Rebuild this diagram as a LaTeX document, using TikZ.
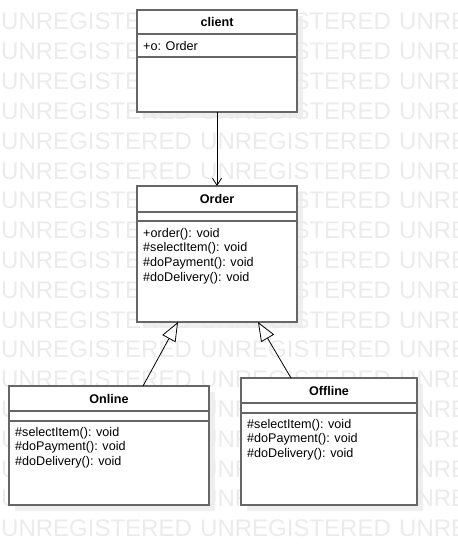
\documentclass[tikz,border=0pt]{standalone}
\usepackage{fontspec}
\setmainfont{Liberation Sans}
\usetikzlibrary{backgrounds,positioning,fit,arrows.meta}
\definecolor{boxline}{HTML}{666666}
\definecolor{wmgray}{HTML}{EBEBEB}
\definecolor{shade}{HTML}{EFEFEF}

\begin{document}
\begin{tikzpicture}[x=1pt, y=-1pt,
  part/.style={draw=boxline, line width=1.6pt, fill=white, outer sep=0pt, inner sep=0pt, font=\fontsize{12.6}{14.6}\selectfont},
  title/.style={part, font=\fontsize{12.6}{14.6}\selectfont\bfseries},
  member/.style={inner sep=0pt, align=left, font=\fontsize{12.6}{14.6}\selectfont},
  assoc/.style={-{Straight Barb[length=7pt,width=9pt]}, line width=0.8pt},
  inherit/.style={-{Triangle[open,fill=white,length=19pt,width=15pt]}, line width=0.8pt},
  shadowbox/.style={fill=shade, inner sep=0pt, xshift=6pt, yshift=-6pt},
  wmark/.style={text=wmgray, font=\fontsize{24}{24}\selectfont, anchor=base west, inner sep=0pt}]
\useasboundingbox (0,0) rectangle (457,545);

% client
\node [title, minimum width=160pt, minimum height=24pt] (client) at (217,22) {client};
\node [part, minimum width=160pt, minimum height=23pt, below=0pt of client] (client-attr) {};
\node [part, minimum width=160pt, minimum height=55pt, below=0pt of client-attr] (client-ops) {};
\node [member, right=6pt of client-attr.west] {+o: Order};

% Order
\node [title, minimum width=160pt, minimum height=26pt] (order) at (217,199) {Order};
\node [part, minimum width=160pt, minimum height=9pt, below=0pt of order] (order-attr) {};
\node [part, minimum width=160pt, minimum height=101pt, below=0pt of order-attr] (order-ops) {};
\node [member, below right=7pt and 6pt of order-ops.north west] {+order(): void\\\#selectItem(): void\\\#doPayment(): void\\\#doDelivery(): void};

% Online
\node [title, minimum width=200pt, minimum height=25pt] (online) at (109,398.5) {Online};
\node [part, minimum width=200pt, minimum height=10pt, below=0pt of online] (online-attr) {};
\node [part, minimum width=200pt, minimum height=84pt, below=0pt of online-attr] (online-ops) {};
\node [member, below right=6pt and 6pt of online-ops.north west] {\#selectItem(): void\\\#doPayment(): void\\\#doDelivery(): void};

% Offline
\node [title, minimum width=176pt, minimum height=25pt] (offline) at (329,390.5) {Offline};
\node [part, minimum width=176pt, minimum height=10pt, below=0pt of offline] (offline-attr) {};
\node [part, minimum width=176pt, minimum height=92pt, below=0pt of offline-attr] (offline-ops) {};
\node [member, below right=6pt and 6pt of offline-ops.north west] {\#selectItem(): void\\\#doPayment(): void\\\#doDelivery(): void};

\draw [assoc] (client-ops) -- (order);
\draw [inherit] ([xshift=34pt]online.north) -- ([xshift=-39pt]order-ops.south);
\draw [inherit] ([xshift=-38pt]offline.north) -- ([xshift=41pt]order-ops.south);

\begin{pgfonlayer}{background}
\foreach \cls in {client,order,online,offline}
  \node [shadowbox, fit=(\cls)(\cls-ops)] {};
\begin{scope}
\clip (0,0) rectangle (457,545);
\foreach \r in {0,...,17}
  \foreach \k in {0,1,2}
    \node [wmark] at (\k*199+1, 30+\r*29.8) {UNREGISTERED};
\end{scope}
\end{pgfonlayer}
\end{tikzpicture}
\end{document}
